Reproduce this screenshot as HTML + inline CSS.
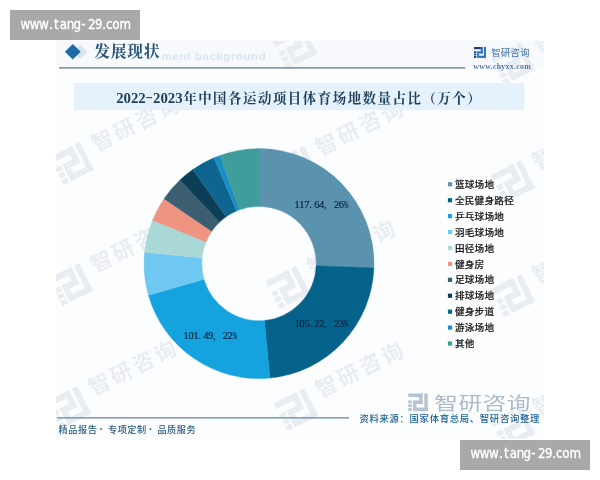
<!DOCTYPE html>
<html lang="zh"><head><meta charset="utf-8"><title>2022-2023年中国各运动项目体育场地数量占比</title>
<style>
html,body{margin:0;padding:0;background:#fff;}
body{width:600px;height:480px;overflow:hidden;position:relative;}
svg{display:block;position:absolute;left:0;top:0;}
.serif{font-family:"Liberation Serif","Noto Serif CJK SC",serif;}
.sans{font-family:"Liberation Sans","Noto Sans CJK SC",sans-serif;}
.lg{font-family:"Liberation Sans","Noto Sans CJK SC",sans-serif;font-size:9.6px;font-weight:500;fill:#1e1e1e;stroke:#1e1e1e;stroke-width:0.2px;letter-spacing:0.27px;}
.dl{font-family:"Liberation Serif",serif;font-size:10.4px;fill:#0c2740;stroke:#0c2740;stroke-width:0.2px;}
.wm{font-family:"Liberation Sans","Noto Sans CJK SC",sans-serif;font-weight:700;font-size:21.5px;letter-spacing:3px;}
.url{font-family:"DejaVu Sans Condensed","DejaVu Sans","Liberation Sans",sans-serif;font-size:13.2px;fill:#fff;stroke:#fff;stroke-width:0.3px;}
</style></head><body>
<svg width="600" height="480" viewBox="0 0 600 480">
<defs><clipPath id="panel"><rect x="56" y="40.7" width="488" height="398"/></clipPath></defs>
<rect width="600" height="480" fill="#ffffff"/>
<rect x="56" y="40.7" width="488" height="398" fill="#fcfdff"/>
<rect x="56" y="40.7" width="488" height="27" fill="#f7f9fc"/>
<g id="watermarks" clip-path="url(#panel)">
<g transform="translate(72 164) rotate(-26.5)"><rect x="-17.00" y="-16.00" width="25.08" height="6.27" fill="#e9edf2"/><rect x="2.10" y="-16.00" width="5.99" height="18.53" fill="#e9edf2"/><rect x="-8.73" y="-3.75" width="16.82" height="6.27" fill="#e9edf2"/><rect x="-17.00" y="-3.75" width="6.27" height="5.13" fill="#e9edf2"/><rect x="-17.00" y="3.10" width="6.27" height="4.84" fill="#e9edf2"/><rect x="-17.00" y="9.65" width="6.27" height="5.42" fill="#e9edf2"/><rect x="-8.73" y="2.53" width="5.99" height="6.55" fill="#e9edf2"/><rect x="-8.73" y="8.79" width="25.93" height="6.27" fill="#e9edf2"/><rect x="11.22" y="-16.00" width="5.99" height="31.07" fill="#e9edf2"/><text x="27" y="0" class="wm" fill="#e9edf2">智研咨询</text></g>
<g transform="translate(71 285) rotate(-26.5)"><rect x="-17.00" y="-16.00" width="25.08" height="6.27" fill="#e9edf2"/><rect x="2.10" y="-16.00" width="5.99" height="18.53" fill="#e9edf2"/><rect x="-8.73" y="-3.75" width="16.82" height="6.27" fill="#e9edf2"/><rect x="-17.00" y="-3.75" width="6.27" height="5.13" fill="#e9edf2"/><rect x="-17.00" y="3.10" width="6.27" height="4.84" fill="#e9edf2"/><rect x="-17.00" y="9.65" width="6.27" height="5.42" fill="#e9edf2"/><rect x="-8.73" y="2.53" width="5.99" height="6.55" fill="#e9edf2"/><rect x="-8.73" y="8.79" width="25.93" height="6.27" fill="#e9edf2"/><rect x="11.22" y="-16.00" width="5.99" height="31.07" fill="#e9edf2"/><text x="27" y="0" class="wm" fill="#e9edf2">智研咨询</text></g>
<g transform="translate(69 408) rotate(-26.5)"><rect x="-17.00" y="-16.00" width="25.08" height="6.27" fill="#e9edf2"/><rect x="2.10" y="-16.00" width="5.99" height="18.53" fill="#e9edf2"/><rect x="-8.73" y="-3.75" width="16.82" height="6.27" fill="#e9edf2"/><rect x="-17.00" y="-3.75" width="6.27" height="5.13" fill="#e9edf2"/><rect x="-17.00" y="3.10" width="6.27" height="4.84" fill="#e9edf2"/><rect x="-17.00" y="9.65" width="6.27" height="5.42" fill="#e9edf2"/><rect x="-8.73" y="2.53" width="5.99" height="6.55" fill="#e9edf2"/><rect x="-8.73" y="8.79" width="25.93" height="6.27" fill="#e9edf2"/><rect x="11.22" y="-16.00" width="5.99" height="31.07" fill="#e9edf2"/><text x="27" y="0" class="wm" fill="#e9edf2">智研咨询</text></g>
<g transform="translate(296 168) rotate(-26.5)"><rect x="-17.00" y="-16.00" width="25.08" height="6.27" fill="#e9edf2"/><rect x="2.10" y="-16.00" width="5.99" height="18.53" fill="#e9edf2"/><rect x="-8.73" y="-3.75" width="16.82" height="6.27" fill="#e9edf2"/><rect x="-17.00" y="-3.75" width="6.27" height="5.13" fill="#e9edf2"/><rect x="-17.00" y="3.10" width="6.27" height="4.84" fill="#e9edf2"/><rect x="-17.00" y="9.65" width="6.27" height="5.42" fill="#e9edf2"/><rect x="-8.73" y="2.53" width="5.99" height="6.55" fill="#e9edf2"/><rect x="-8.73" y="8.79" width="25.93" height="6.27" fill="#e9edf2"/><rect x="11.22" y="-16.00" width="5.99" height="31.07" fill="#e9edf2"/><text x="27" y="0" class="wm" fill="#e9edf2">智研咨询</text></g>
<g transform="translate(288 288) rotate(-26.5)"><rect x="-17.00" y="-16.00" width="25.08" height="6.27" fill="#e9edf2"/><rect x="2.10" y="-16.00" width="5.99" height="18.53" fill="#e9edf2"/><rect x="-8.73" y="-3.75" width="16.82" height="6.27" fill="#e9edf2"/><rect x="-17.00" y="-3.75" width="6.27" height="5.13" fill="#e9edf2"/><rect x="-17.00" y="3.10" width="6.27" height="4.84" fill="#e9edf2"/><rect x="-17.00" y="9.65" width="6.27" height="5.42" fill="#e9edf2"/><rect x="-8.73" y="2.53" width="5.99" height="6.55" fill="#e9edf2"/><rect x="-8.73" y="8.79" width="25.93" height="6.27" fill="#e9edf2"/><rect x="11.22" y="-16.00" width="5.99" height="31.07" fill="#e9edf2"/><text x="27" y="0" class="wm" fill="#e9edf2">智研咨询</text></g>
<g transform="translate(296 410) rotate(-26.5)"><rect x="-17.00" y="-16.00" width="25.08" height="6.27" fill="#e9edf2"/><rect x="2.10" y="-16.00" width="5.99" height="18.53" fill="#e9edf2"/><rect x="-8.73" y="-3.75" width="16.82" height="6.27" fill="#e9edf2"/><rect x="-17.00" y="-3.75" width="6.27" height="5.13" fill="#e9edf2"/><rect x="-17.00" y="3.10" width="6.27" height="4.84" fill="#e9edf2"/><rect x="-17.00" y="9.65" width="6.27" height="5.42" fill="#e9edf2"/><rect x="-8.73" y="2.53" width="5.99" height="6.55" fill="#e9edf2"/><rect x="-8.73" y="8.79" width="25.93" height="6.27" fill="#e9edf2"/><rect x="11.22" y="-16.00" width="5.99" height="31.07" fill="#e9edf2"/><text x="27" y="0" class="wm" fill="#e9edf2">智研咨询</text></g>
<g transform="translate(513 182) rotate(-26.5)"><rect x="-17.00" y="-16.00" width="25.08" height="6.27" fill="#e9edf2"/><rect x="2.10" y="-16.00" width="5.99" height="18.53" fill="#e9edf2"/><rect x="-8.73" y="-3.75" width="16.82" height="6.27" fill="#e9edf2"/><rect x="-17.00" y="-3.75" width="6.27" height="5.13" fill="#e9edf2"/><rect x="-17.00" y="3.10" width="6.27" height="4.84" fill="#e9edf2"/><rect x="-17.00" y="9.65" width="6.27" height="5.42" fill="#e9edf2"/><rect x="-8.73" y="2.53" width="5.99" height="6.55" fill="#e9edf2"/><rect x="-8.73" y="8.79" width="25.93" height="6.27" fill="#e9edf2"/><rect x="11.22" y="-16.00" width="5.99" height="31.07" fill="#e9edf2"/><text x="27" y="0" class="wm" fill="#e9edf2">智研咨询</text></g>
<g transform="translate(513 296) rotate(-26.5)"><rect x="-17.00" y="-16.00" width="25.08" height="6.27" fill="#e9edf2"/><rect x="2.10" y="-16.00" width="5.99" height="18.53" fill="#e9edf2"/><rect x="-8.73" y="-3.75" width="16.82" height="6.27" fill="#e9edf2"/><rect x="-17.00" y="-3.75" width="6.27" height="5.13" fill="#e9edf2"/><rect x="-17.00" y="3.10" width="6.27" height="4.84" fill="#e9edf2"/><rect x="-17.00" y="9.65" width="6.27" height="5.42" fill="#e9edf2"/><rect x="-8.73" y="2.53" width="5.99" height="6.55" fill="#e9edf2"/><rect x="-8.73" y="8.79" width="25.93" height="6.27" fill="#e9edf2"/><rect x="11.22" y="-16.00" width="5.99" height="31.07" fill="#e9edf2"/><text x="27" y="0" class="wm" fill="#e9edf2">智研咨询</text></g>
<g transform="translate(513 428) rotate(-26.5)"><rect x="-17.00" y="-16.00" width="25.08" height="6.27" fill="#e9edf2"/><rect x="2.10" y="-16.00" width="5.99" height="18.53" fill="#e9edf2"/><rect x="-8.73" y="-3.75" width="16.82" height="6.27" fill="#e9edf2"/><rect x="-17.00" y="-3.75" width="6.27" height="5.13" fill="#e9edf2"/><rect x="-17.00" y="3.10" width="6.27" height="4.84" fill="#e9edf2"/><rect x="-17.00" y="9.65" width="6.27" height="5.42" fill="#e9edf2"/><rect x="-8.73" y="2.53" width="5.99" height="6.55" fill="#e9edf2"/><rect x="-8.73" y="8.79" width="25.93" height="6.27" fill="#e9edf2"/><rect x="11.22" y="-16.00" width="5.99" height="31.07" fill="#e9edf2"/><text x="27" y="0" class="wm" fill="#e9edf2">智研咨询</text></g>
<g transform="translate(295 48) rotate(-26.5)"><rect x="-17.00" y="-16.00" width="25.08" height="6.27" fill="#e9edf2"/><rect x="2.10" y="-16.00" width="5.99" height="18.53" fill="#e9edf2"/><rect x="-8.73" y="-3.75" width="16.82" height="6.27" fill="#e9edf2"/><rect x="-17.00" y="-3.75" width="6.27" height="5.13" fill="#e9edf2"/><rect x="-17.00" y="3.10" width="6.27" height="4.84" fill="#e9edf2"/><rect x="-17.00" y="9.65" width="6.27" height="5.42" fill="#e9edf2"/><rect x="-8.73" y="2.53" width="5.99" height="6.55" fill="#e9edf2"/><rect x="-8.73" y="8.79" width="25.93" height="6.27" fill="#e9edf2"/><rect x="11.22" y="-16.00" width="5.99" height="31.07" fill="#e9edf2"/><text x="27" y="0" class="wm" fill="#e9edf2">智研咨询</text></g>
<g transform="translate(513 64) rotate(-26.5)"><rect x="-17.00" y="-16.00" width="25.08" height="6.27" fill="#e9edf2"/><rect x="2.10" y="-16.00" width="5.99" height="18.53" fill="#e9edf2"/><rect x="-8.73" y="-3.75" width="16.82" height="6.27" fill="#e9edf2"/><rect x="-17.00" y="-3.75" width="6.27" height="5.13" fill="#e9edf2"/><rect x="-17.00" y="3.10" width="6.27" height="4.84" fill="#e9edf2"/><rect x="-17.00" y="9.65" width="6.27" height="5.42" fill="#e9edf2"/><rect x="-8.73" y="2.53" width="5.99" height="6.55" fill="#e9edf2"/><rect x="-8.73" y="8.79" width="25.93" height="6.27" fill="#e9edf2"/><rect x="11.22" y="-16.00" width="5.99" height="31.07" fill="#e9edf2"/><text x="27" y="0" class="wm" fill="#e9edf2">智研咨询</text></g>
</g>
<!-- header -->
<polygon points="80,45 87.4,52 80,59 72.6,52" fill="#d7e4ef"/>
<polygon points="72.8,44 80.7,51.8 72.8,59.6 64.9,51.8" fill="#1e6aa5"/>
<text x="161.5" y="59.6" class="sans" font-size="11.5" font-weight="700" fill="#d9e5f0" letter-spacing="0.55">ment background</text>
<text x="94.2" y="57.4" class="serif" font-size="15.8" font-weight="700" fill="#27557a" letter-spacing="0.75">发展现状</text>
<rect x="59" y="67" width="406.3" height="1.7" fill="#8398a8"/>
<!-- logo -->
<rect x="474.00" y="47.00" width="8.80" height="2.20" fill="#1c3f7a"/><rect x="480.70" y="47.00" width="2.10" height="6.50" fill="#2f74c0"/><rect x="476.90" y="51.30" width="5.90" height="2.20" fill="#2f74c0"/><rect x="474.00" y="51.30" width="2.20" height="1.80" fill="#1c3f7a"/><rect x="474.00" y="53.70" width="2.20" height="1.70" fill="#1c3f7a"/><rect x="474.00" y="56.00" width="2.20" height="1.90" fill="#1c3f7a"/><rect x="476.90" y="53.50" width="2.10" height="2.30" fill="#2f74c0"/><rect x="476.90" y="55.70" width="9.10" height="2.20" fill="#2f74c0"/><rect x="483.90" y="47.00" width="2.10" height="10.90" fill="#2f74c0"/>
<text x="491.2" y="55.9" class="sans" font-size="9.4" font-weight="400" fill="#3f74ad" letter-spacing="0.3">智研咨询</text>
<text x="473.3" y="68.5" class="serif" font-weight="700" font-size="7.8" fill="#4f7aa3" textLength="57.4" lengthAdjust="spacing">www.chyxx.com</text>
<!-- title bar -->
<rect x="73.8" y="83" width="450.5" height="27" rx="1" fill="#e5f2fc"/>
<g class="serif" font-size="14.8" font-weight="700" fill="#1e405c">
<text x="116.2" y="103.4" letter-spacing="-0.05">2022</text>
<text transform="translate(145.6 101.3) scale(1.5 0.85)" x="0" y="0">-</text>
<text x="153.1" y="103.4" letter-spacing="-0.05">2023</text>
<text x="183.2" y="103.1" font-size="13.4" font-weight="700" letter-spacing="1.56">年中国各运动项目体育场地数量占比（万个）</text>
</g>
<!-- donut -->
<g id="donut">
<path d="M259.00 148.60A115 115 0 0 1 373.92 267.81L316.16 265.70A57.2 57.2 0 0 0 259.00 206.40Z" fill="#5b92ad" stroke="#5b92ad" stroke-width="0.4"/>
<path d="M373.92 267.81A115 115 0 0 1 269.82 378.09L264.38 320.55A57.2 57.2 0 0 0 316.16 265.70Z" fill="#05638b" stroke="#05638b" stroke-width="0.4"/>
<path d="M269.82 378.09A115 115 0 0 1 148.45 295.30L204.02 279.37A57.2 57.2 0 0 0 264.38 320.55Z" fill="#14a3df" stroke="#14a3df" stroke-width="0.4"/>
<path d="M148.45 295.30A115 115 0 0 1 144.57 252.18L202.08 257.92A57.2 57.2 0 0 0 204.02 279.37Z" fill="#6fc8f2" stroke="#6fc8f2" stroke-width="0.4"/>
<path d="M144.57 252.18A115 115 0 0 1 152.52 220.15L206.04 241.99A57.2 57.2 0 0 0 202.08 257.92Z" fill="#a9d8d6" stroke="#a9d8d6" stroke-width="0.4"/>
<path d="M152.52 220.15A115 115 0 0 1 164.00 198.79L211.75 231.37A57.2 57.2 0 0 0 206.04 241.99Z" fill="#ef9480" stroke="#ef9480" stroke-width="0.4"/>
<path d="M164.00 198.79A115 115 0 0 1 179.98 180.04L219.70 222.04A57.2 57.2 0 0 0 211.75 231.37Z" fill="#3b5f70" stroke="#3b5f70" stroke-width="0.4"/>
<path d="M179.98 180.04A115 115 0 0 1 192.87 169.51L226.11 216.80A57.2 57.2 0 0 0 219.70 222.04Z" fill="#0c3f57" stroke="#0c3f57" stroke-width="0.4"/>
<path d="M192.87 169.51A115 115 0 0 1 213.88 157.82L236.56 210.99A57.2 57.2 0 0 0 226.11 216.80Z" fill="#0d6590" stroke="#0d6590" stroke-width="0.4"/>
<path d="M213.88 157.82A115 115 0 0 1 220.05 155.40L239.62 209.78A57.2 57.2 0 0 0 236.56 210.99Z" fill="#1b8fc4" stroke="#1b8fc4" stroke-width="0.4"/>
<path d="M220.05 155.40A115 115 0 0 1 259.00 148.60L259.00 206.40A57.2 57.2 0 0 0 239.62 209.78Z" fill="#3f9e9b" stroke="#3f9e9b" stroke-width="0.4"/>
</g>
<text y="208" class="dl"><tspan x="294.40 299.34 304.27 309.21 314.15 319.08 324.02 328.95 333.89 338.83">117.64, 26</tspan><tspan x="343.76" textLength="4.74" lengthAdjust="spacingAndGlyphs">%</tspan></text>
<text y="326.6" class="dl"><tspan x="294.70 299.61 304.52 309.43 314.34 319.25 324.15 329.06 333.97 338.88">105.22, 23</tspan><tspan x="343.79" textLength="4.71" lengthAdjust="spacingAndGlyphs">%</tspan></text>
<text y="338.6" class="dl"><tspan x="183.60 188.49 193.38 198.27 203.16 208.05 212.95 217.84 222.73 227.62">101.49, 22</tspan><tspan x="232.51" textLength="4.69" lengthAdjust="spacingAndGlyphs">%</tspan></text>
<!-- legend -->
<g id="legend">
<rect x="447.9" y="182.20" width="4.2" height="4.2" fill="#5b92ad"/>
<text x="454.9" y="187.95" class="lg">篮球场地</text>
<rect x="447.9" y="198.12" width="4.2" height="4.2" fill="#05638b"/>
<text x="454.9" y="203.87" class="lg">全民健身路径</text>
<rect x="447.9" y="214.04" width="4.2" height="4.2" fill="#14a3df"/>
<text x="454.9" y="219.79" class="lg">乒乓球场地</text>
<rect x="447.9" y="229.96" width="4.2" height="4.2" fill="#6fc8f2"/>
<text x="454.9" y="235.71" class="lg">羽毛球场地</text>
<rect x="447.9" y="245.88" width="4.2" height="4.2" fill="#a9d8d6"/>
<text x="454.9" y="251.63" class="lg">田径场地</text>
<rect x="447.9" y="261.80" width="4.2" height="4.2" fill="#ef9480"/>
<text x="454.9" y="267.55" class="lg">健身房</text>
<rect x="447.9" y="277.72" width="4.2" height="4.2" fill="#3b5f70"/>
<text x="454.9" y="283.47" class="lg">足球场地</text>
<rect x="447.9" y="293.64" width="4.2" height="4.2" fill="#0c3f57"/>
<text x="454.9" y="299.39" class="lg">排球场地</text>
<rect x="447.9" y="309.56" width="4.2" height="4.2" fill="#0d6590"/>
<text x="454.9" y="315.31" class="lg">健身步道</text>
<rect x="447.9" y="325.48" width="4.2" height="4.2" fill="#1b8fc4"/>
<text x="454.9" y="331.23" class="lg">游泳场地</text>
<rect x="447.9" y="341.40" width="4.2" height="4.2" fill="#3f9e9b"/>
<text x="454.9" y="347.15" class="lg">其他</text>
</g>
<!-- footer -->
<rect x="408.30" y="393.50" width="14.26" height="3.56" fill="#b4c4d1"/><rect x="419.15" y="393.50" width="3.40" height="10.53" fill="#b4c4d1"/><rect x="413.00" y="400.47" width="9.56" height="3.56" fill="#b4c4d1"/><rect x="408.30" y="400.47" width="3.56" height="2.92" fill="#b4c4d1"/><rect x="408.30" y="404.35" width="3.56" height="2.75" fill="#b4c4d1"/><rect x="408.30" y="408.08" width="3.56" height="3.08" fill="#b4c4d1"/><rect x="413.00" y="404.03" width="3.40" height="3.73" fill="#b4c4d1"/><rect x="413.00" y="407.59" width="14.74" height="3.56" fill="#b4c4d1"/><rect x="424.34" y="393.50" width="3.40" height="17.66" fill="#b4c4d1"/>
<text transform="translate(434.2 409.8) scale(1.27 1)" x="0" y="0" class="sans" font-size="18.6" font-weight="400" fill="#abbbc8" letter-spacing="0.45">智研咨询</text>
<rect x="57" y="417.1" width="292" height="1.5" fill="#7d99ae"/>
<text y="432.5" class="sans" font-size="9.2" font-weight="500" fill="#2b5c83" letter-spacing="0.5"><tspan x="58.6">精品报告</tspan><tspan x="99.6" font-weight="900" font-size="10.5">·</tspan><tspan x="108">专项定制</tspan><tspan x="149" font-weight="900" font-size="10.5">·</tspan><tspan x="157.4">品质服务</tspan></text>
<text x="359.4" y="422.3" class="sans" font-size="9.4" font-weight="500" fill="#1c6296" stroke="#ffffff" stroke-width="1.6" paint-order="stroke" letter-spacing="0.66">资料来源：国家体育总局、智研咨询整理</text>
<!-- site badges -->
<rect x="10" y="10" width="130" height="30" fill="#a9a9a9"/>
<text transform="translate(0 28.5) scale(1 1.08)" x="20.5 29.8 39.1 49.2 54.1 59.8 66.8 73.5 81.2 87.9 94.9 102.2 106.1 112.2 119.6" y="0" class="url">www.tang-29.com</text>
<rect x="460" y="440" width="130" height="30" fill="#a9a9a9"/>
<text transform="translate(0 458.3) scale(1 1.08)" x="470.5 479.8 489.1 499.2 504.1 509.8 516.8 523.5 531.2 537.9 544.9 552.2 556.1 562.2 569.6" y="0" class="url">www.tang-29.com</text>
</svg>
</body></html>
